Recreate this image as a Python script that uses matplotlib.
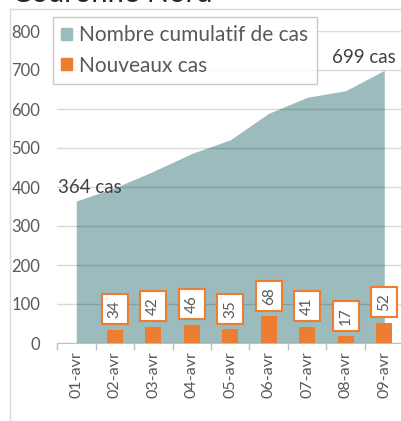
import matplotlib.pyplot as plt
from matplotlib.patches import Patch
from matplotlib.lines import Line2D
import numpy as np

plt.rcParams['font.family'] = ['Lato', 'DejaVu Sans']

dates = ['01-avr', '02-avr', '03-avr', '04-avr', '05-avr', '06-avr', '07-avr', '08-avr', '09-avr']
cumul = [364, 398, 440, 486, 521, 589, 630, 647, 699]
nouveaux = [None, 34, 42, 46, 35, 68, 41, 17, 52]

area_color = '#9BBBBC'
bar_color = '#ED7D31'
text_gray = '#595959'

fig = plt.figure(figsize=(4.01, 4.21), dpi=100)
ax = fig.add_axes([57 / 401, 1 - 343 / 421, 346.5 / 401, 312 / 421])

x = np.arange(len(dates))
ax.fill_between(x, 0, cumul, color=area_color, linewidth=0, zorder=1)

# bars for new cases (none on day 1)
bx = [i for i, v in enumerate(nouveaux) if v is not None]
bv = [v for v in nouveaux if v is not None]
ax.bar(bx, bv, width=0.42, color=bar_color, zorder=2)

for i, v in zip(bx, bv):
    ax.annotate(str(v), (i, v), xytext=(0, 8.5), textcoords='offset points',
                rotation=90, ha='center', va='bottom', fontsize=11, color=text_gray,
                bbox=dict(boxstyle='square,pad=0.4', fc='white', ec=bar_color, lw=1.5),
                zorder=4)

ax.annotate('364 cas', (0, cumul[0]), xytext=(9.5, 9.5), textcoords='offset points',
            ha='center', va='center', fontsize=13.5, color='#404040', zorder=4)
ax.annotate('699 cas', (8, cumul[-1]), xytext=(-15, 9), textcoords='offset points',
            ha='center', va='center', fontsize=13.5, color='#404040', zorder=4)

ax.set_xlim(-0.5, 8.5)
ax.set_ylim(0, 800)
ax.set_yticks(range(0, 801, 100))
ax.yaxis.grid(True, color='black', alpha=0.15, lw=1, zorder=1.5)
ax.set_axisbelow(False)
for line in ax.get_ygridlines():
    line.set_zorder(1.5)

ax.set_xticks(x)
ax.set_xticklabels(dates, rotation=90)
ax.set_xticks(np.arange(-0.5, 9, 1), minor=True)
ax.tick_params(axis='x', which='major', length=0, pad=6, labelsize=11.5, labelcolor=text_gray)
ax.tick_params(axis='x', which='minor', length=5, color='#BFBFBF', width=1)
ax.tick_params(axis='y', length=0, pad=12, labelsize=12, labelcolor=text_gray)

for s in ['left', 'right', 'top']:
    ax.spines[s].set_visible(False)
ax.spines['bottom'].set_color('#BFBFBF')
ax.spines['bottom'].set_zorder(3)

handles = [Patch(color=area_color, label='Nombre cumulatif de cas'),
           Patch(color=bar_color, label='Nouveaux cas')]
leg = fig.legend(handles=handles, loc='upper left', bbox_to_anchor=(53 / 401, 1 - 17 / 421),
                 fontsize=15, frameon=True, fancybox=False, edgecolor='#BFBFBF',
                 handlelength=0.5, handleheight=0.5, handletextpad=0.35, borderpad=0.4,
                 labelspacing=0.5, borderaxespad=0, labelcolor=text_gray)
leg.get_frame().set_linewidth(1)

# outer chart frame and cut-off title
fig.add_artist(Line2D([10 / 401, 10 / 401], [0, 1 - 9 / 421], color='#D9D9D9', lw=1))
fig.add_artist(Line2D([10 / 401, 1], [1 - 9 / 421, 1 - 9 / 421], color='#D9D9D9', lw=1))
fig.text(12 / 401, 1 - 2 / 421, 'Couronne Nord', fontsize=21, color='#262626', va='baseline')

fig.savefig('out.png', dpi=100)
